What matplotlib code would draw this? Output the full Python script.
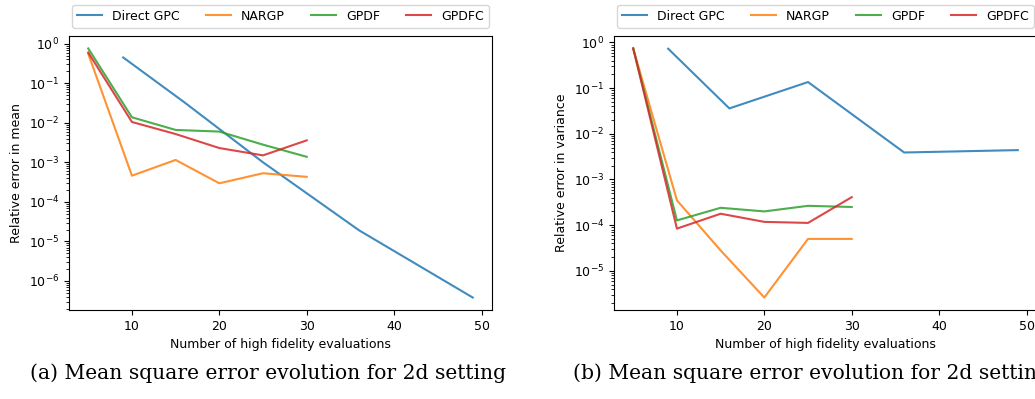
import numpy as np
import matplotlib
matplotlib.use("Agg")
import matplotlib.pyplot as plt

# x values (number of high fidelity evaluations)
X_DIRECT = [9, 16, 25, 36, 49]
X_MF = [5, 10, 15, 20, 25, 30]

# (a) relative error in mean
MEAN_DIRECT = [0.45, 0.033, 1.0e-3, 1.9e-5, 3.8e-7]
MEAN_NARGP = [0.56, 4.6e-4, 1.15e-3, 2.95e-4, 5.3e-4, 4.3e-4]
MEAN_GPDF = [0.76, 0.0138, 6.6e-3, 6.0e-3, 2.8e-3, 1.38e-3]
MEAN_GPDFC = [0.60, 0.0105, 5.2e-3, 2.3e-3, 1.5e-3, 3.6e-3]

# (b) relative error in variance
VAR_DIRECT = [0.73, 0.036, 0.136, 3.9e-3, 4.4e-3]
VAR_NARGP = [0.74, 3.5e-4, 2.8e-5, 2.6e-6, 5.0e-5, 5.0e-5]
VAR_GPDF = [0.74, 1.27e-4, 2.4e-4, 2.0e-4, 2.65e-4, 2.5e-4]
VAR_GPDFC = [0.74, 8.4e-5, 1.78e-4, 1.18e-4, 1.12e-4, 4.1e-4]

LABELS = ["Direct GPC", "NARGP", "GPDF", "GPDFC"]
CAPTIONS = ["(a) Mean square error evolution for 2d setting",
            "(b) Mean square error evolution for 2d setting"]

plt.rcParams["font.size"] = 9

fig = plt.figure(figsize=(10.35, 3.99), dpi=100)
W, H = 1035, 399


def add_panel(left_px, data, ylabel):
    ax = fig.add_axes([left_px / W, 1 - 310 / H, 423 / W, 274 / H])
    x_lists = [X_DIRECT, X_MF, X_MF, X_MF]
    for xs, ys, lab in zip(x_lists, data, LABELS):
        ax.plot(xs, ys, label=lab, alpha=0.85)
    ax.set_yscale("log")
    ax.set_xticks([10, 20, 30, 40, 50])
    ax.set_xlabel("Number of high fidelity evaluations")
    ax.set_ylabel(ylabel)
    ax.legend(loc="lower left", bbox_to_anchor=(0.008, 1.03, 0.984, 0.1),
              mode="expand", ncol=4, borderaxespad=0)
    return ax


ax1 = add_panel(69, [MEAN_DIRECT, MEAN_NARGP, MEAN_GPDF, MEAN_GPDFC],
                "Relative error in mean")
ax2 = add_panel(614, [VAR_DIRECT, VAR_NARGP, VAR_GPDF, VAR_GPDFC],
                "Relative error in variance")

for xpx, cap in zip([30, 573], CAPTIONS):
    fig.text(xpx / W, 1 - 379 / H, cap, ha="left", va="baseline",
             family="DejaVu Serif", fontsize=14.6)

fig.savefig("out.png", dpi=100)
